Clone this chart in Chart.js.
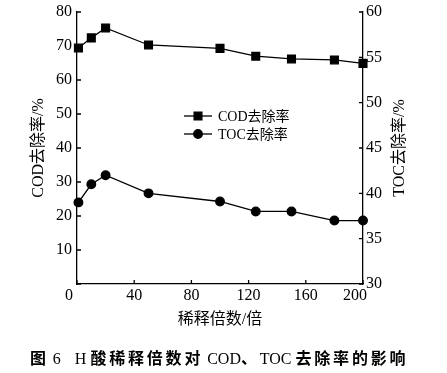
<!DOCTYPE html>
<html>
<head>
<meta charset="utf-8">
<script src="https://cdn.jsdelivr.net/npm/chart.js@4.4.0/dist/chart.umd.min.js"></script>
<style>
  body { margin: 0; background: #fff; }
  #caja { position: relative; width: 447px; height: 373px; }
  #pie {
    position: absolute; left: 30px; top: 345px; white-space: nowrap;
    font: 16px 'Liberation Serif', serif; color: #000; line-height: 22px;
  }
  #pie .zh { font: bold 16px 'Noto Sans CJK SC', sans-serif; letter-spacing: 2.8px; }
  #pie .hueco { display: inline-block; width: 14px; }
</style>
</head>
<body>
<div id="caja">
  <canvas id="myChart" width="447" height="373"></canvas>
  <div id="pie"><span class="zh">图</span> 6<span class="hueco"></span>H <span class="zh">酸稀释倍数对</span> COD<span class="zh">、</span>TOC <span class="zh">去除率的影响</span></div>
</div>
<script>
// datos
const diluciones = [1, 10, 20, 50, 100, 125, 150, 180, 200];
const cod = [69.4, 72.4, 75.3, 70.3, 69.3, 67.0, 66.2, 65.9, 64.9];
const toc = [39.0, 41.0, 42.0, 40.0, 39.1, 38.0, 38.0, 37.0, 37.0];

const ticksX = [0, 40, 80, 120, 160, 200];
const ticksIzq = [0, 10, 20, 30, 40, 50, 60, 70, 80];
const ticksDer = [30, 35, 40, 45, 50, 55, 60];
const tituloDer = 'TOC去除率/%';

const fuente = "'Liberation Serif', 'Noto Sans CJK SC', serif";
Chart.defaults.font.family = fuente;
Chart.defaults.font.size = 16;
Chart.defaults.color = '#000';

// marcas de division hacia dentro
const marcasInternas = {
    id: 'marcasInternas',
    afterDraw(chart) {
        const ctx = chart.ctx;
        const area = chart.chartArea;
        const largo = 4;
        ctx.save();
        ctx.strokeStyle = '#000';
        ctx.lineWidth = 1.3;
        ctx.beginPath();
        chart.scales.x.ticks.forEach(function (t) {
            var px = chart.scales.x.getPixelForValue(t.value);
            ctx.moveTo(px, area.bottom);
            ctx.lineTo(px, area.bottom - largo);
        });
        chart.scales.y.ticks.forEach(function (t) {
            var py = chart.scales.y.getPixelForValue(t.value);
            ctx.moveTo(area.left, py);
            ctx.lineTo(area.left + largo, py);
        });
        chart.scales.y2.ticks.forEach(function (t) {
            var py = chart.scales.y2.getPixelForValue(t.value);
            ctx.moveTo(area.right, py);
            ctx.lineTo(area.right - largo, py);
        });
        ctx.stroke();

        // titulo del eje derecho, leido de abajo hacia arriba
        ctx.translate(400, (area.top + area.bottom) / 2);
        ctx.rotate(-Math.PI / 2);
        ctx.fillStyle = '#000';
        ctx.font = '16px ' + fuente;
        ctx.textAlign = 'center';
        ctx.textBaseline = 'middle';
        ctx.fillText(tituloDer, 0, 0);
        ctx.restore();
    }
};

// leyenda dentro del area
const leyenda = {
    id: 'leyenda',
    afterDraw(chart) {
        const ctx = chart.ctx;
        const x0 = 184, x1 = 212, xt = 218;
        const filas = [116, 134];
        ctx.save();
        chart.data.datasets.forEach(function (ds, i) {
            var y = filas[i];
            ctx.strokeStyle = '#000';
            ctx.fillStyle = '#000';
            ctx.lineWidth = 1.3;
            ctx.beginPath();
            ctx.moveTo(x0, y);
            ctx.lineTo(x1, y);
            ctx.stroke();
            Chart.helpers.drawPoint(ctx, {
                pointStyle: ds.pointStyle,
                radius: ds.pointRadius,
                borderWidth: 1
            }, (x0 + x1) / 2, y);
            ctx.font = '14px ' + fuente;
            ctx.textBaseline = 'middle';
            ctx.textAlign = 'left';
            ctx.fillText(ds.label, xt, y + 1);
        });
        ctx.restore();
    }
};

function sinRelleno(s, ancho) {
    s.width = ancho;
    s.paddingTop = 0;
    s.paddingBottom = 0;
}

const ctx = document.getElementById('myChart').getContext('2d');
let myChart = new Chart(ctx, {
    type: 'line',
    data: {
        datasets: [{
            label: 'COD去除率',
            data: diluciones.map((d, i) => ({ x: d, y: cod[i] })),
            yAxisID: 'y',
            borderColor: '#000',
            backgroundColor: '#000',
            borderWidth: 1.3,
            pointStyle: 'rect',
            pointRadius: 5.5,
            clip: false
        }, {
            label: 'TOC去除率',
            data: diluciones.map((d, i) => ({ x: d, y: toc[i] })),
            yAxisID: 'y2',
            borderColor: '#000',
            backgroundColor: '#000',
            borderWidth: 1.3,
            pointStyle: 'circle',
            pointRadius: 4.3,
            clip: false
        }]
    },
    options: {
        responsive: false,
        animation: false,
        layout: { padding: { top: 12, left: 0, right: 0, bottom: 0 } },
        plugins: {
            legend: { display: false },
            tooltip: { enabled: false }
        },
        scales: {
            x: {
                type: 'linear',
                min: 0,
                max: 200,
                afterBuildTicks: function (s) { s.ticks = ticksX.map(v => ({ value: v })); },
                afterFit: function (s) { s.height = 89; },
                grid: { display: false, drawTicks: false },
                border: { color: '#000', width: 1.3 },
                ticks: {
                    padding: 2,
                    maxRotation: 0,
                    callback: function (v) { return (v === 0 || v === 200) ? v + '\u2003' : v; }
                },
                title: {
                    display: true,
                    text: '稀释倍数/倍',
                    padding: { top: 2, bottom: 44 }
                }
            },
            y: {
                position: 'left',
                min: 0,
                max: 80,
                afterBuildTicks: function (s) { s.ticks = ticksIzq.map(v => ({ value: v })); },
                afterFit: function (s) { sinRelleno(s, 77); },
                grid: { display: false, drawTicks: false },
                border: { color: '#000', width: 1.3 },
                ticks: {
                    padding: 5,
                    callback: function (v) { return v === 0 ? '' : v; }
                },
                title: {
                    display: true,
                    text: 'COD去除率/%',
                    padding: { top: 29, bottom: 0 }
                }
            },
            y2: {
                position: 'right',
                min: 30,
                max: 60,
                afterBuildTicks: function (s) { s.ticks = ticksDer.map(v => ({ value: v })); },
                afterFit: function (s) { sinRelleno(s, 84); },
                grid: { display: false, drawTicks: false },
                border: { color: '#000', width: 1.3 },
                ticks: { padding: 3 }
            }
        }
    },
    plugins: [marcasInternas, leyenda]
});
</script>
</body>
</html>
